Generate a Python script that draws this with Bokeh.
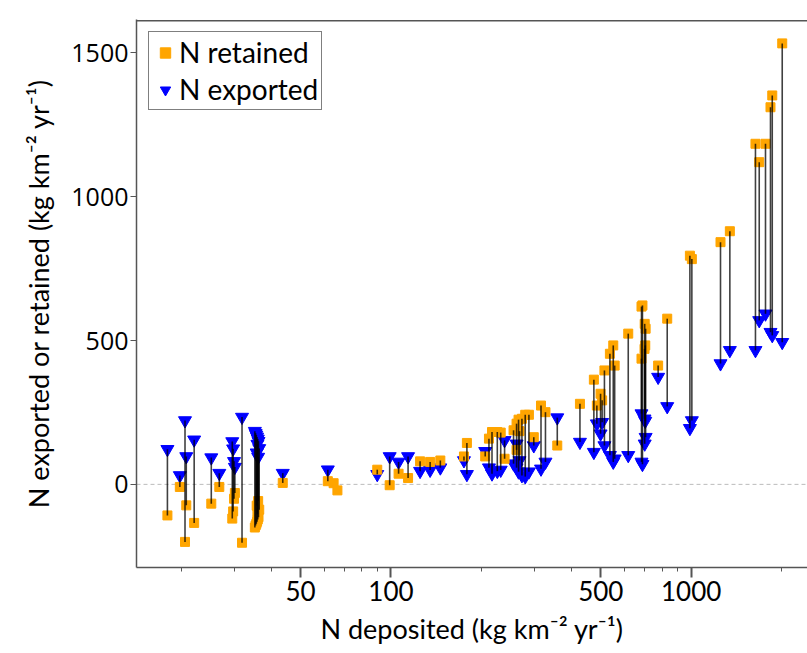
import numpy as np
from bokeh.plotting import figure
from bokeh.models import (Range1d, FixedTicker, PrintfTickFormatter, Span,
                          Legend, LegendItem, ColumnDataSource)
from bokeh.embed import file_html
from bokeh.resources import INLINE

nan = float("nan")

# N deposited (kg km-2 yr-1)
deposited = [18.0, 19.8, 20.6, 20.8, 22.1, 25.2, 26.8, 29.6, 29.8, 30.0, 30.2, 31.9,
             35.2, 35.4, 35.6, 35.8, 36.0, 36.2, 35.9, 36.4, 35.7, 36.1,
             43.6, 61.6, 64.4, 66.3, 90, 99, 106, 114, 125, 135, 146, 175, 179,
             206, 212, 217, 226, 232, 239, 256, 262, 266, 273, 280, 288, 262, 268,
             299, 316, 327, 358, 426, 474, 485, 499, 505, 514, 536, 550, 556, 617,
             683, 688, 700, 705, 703, 699, 683, 776, 832, 990, 1005,
             1252, 1345, 1637, 1685, 1768, 1837, 1862, 2010]
# N exported
exported = [122, 31, 222, 97, 155, 93, 39, 149, 124, 80, 60, 234,
            185, 178, 172, 165, 158, 150, 140, 125, 110, 95,
            39, 51, nan, nan, 35, 97, 78, 97, 46, 50, 58, 83, 35,
            115, 58, 37, 46, 50, 153, 72, 58, 44, 31, 27, 44, 141, 83,
            135, 54, 78, 232, 147, 112, 211, 176, 216, 135, 101, 78, 89, 101,
            78, 70, 141, 164, 220, 228, 246, 373, 271, 195, 222,
            420, 466, 466, 570, 593, 529, 518, 494]
# N retained
retained = [-108, -9, -200, -73, -134, -67, -9, -119, -94, -50, -30, -203,
            -150, -143, -137, -130, -122, -114, -104, -88, -74, -58,
            5, 11, 4, -21, 51, -3, 37, 22, 80, 78, 83, 97, 144,
            97, 159, 182, 182, 180, 89, 188, 211, 225, 228, 242, 242, 120, 185,
            164, 274, 251, 135, 280, 364, 274, 315, 292, 396, 454, 483, 413, 524,
            618, 622, 558, 541, 483, 471, 437, 413, 576, 795, 783,
            842, 880, 1184, 1120, 1184, 1311, 1352, 1533]

y_ticks = [0, 500, 1000, 1500]
x_ticks = [50, 100, 500, 1000]
x_minor = [20, 30, 40, 60, 70, 80, 90, 200, 300, 400, 600, 700, 800, 900, 2000]

src = ColumnDataSource(dict(x=np.array(deposited, float),
                            exp=np.array(exported, float),
                            ret=np.array(retained, float)))

p = figure(width=807, height=650, x_axis_type="log",
           x_range=Range1d(14.2, 2440), y_range=Range1d(-289, 1616),
           output_backend="svg", toolbar_location=None,
           min_border_left=136, min_border_right=0, min_border_top=19,
           min_border_bottom=83)
p.outline_line_color = None
p.xgrid.visible = False
p.ygrid.visible = False

p.add_layout(Span(location=1612, dimension="width", line_color="#555555",
                  line_width=1.5))
p.add_layout(Span(location=0, dimension="width", line_color="#bbbbbb",
                  line_dash="4 3", line_width=1, level="underlay"))

r_exp = p.scatter("x", "exp", source=src, marker="inverted_triangle", size=13,
                  fill_color="#0000ff", line_color="#0000ff")
r_ret = p.scatter("x", "ret", source=src, marker="square", size=9,
                  fill_color="#ffa500", line_color="#ffa500")
p.segment(x0="x", y0="exp", x1="x", y1="ret", source=src,
          line_color="black", line_width=1.6, line_alpha=0.75)

# axes
for ax in (p.xaxis[0], p.yaxis[0]):
    ax.axis_line_color = "#555555"
    ax.axis_line_width = 1.5
    ax.major_tick_line_color = "#555555"
    ax.minor_tick_line_color = "#555555"
    ax.major_tick_in = 0
    ax.minor_tick_in = 0
    ax.major_label_text_color = "black"
    ax.axis_label_text_color = "black"
    ax.axis_label_text_font = "Lato"
    ax.axis_label_text_font_style = "normal"
    ax.axis_label_text_font_size = "27px"

p.yaxis.ticker = FixedTicker(ticks=y_ticks)
p.yaxis.minor_tick_line_color = None
p.yaxis.major_tick_out = 6
p.yaxis.major_label_standoff = 2
p.yaxis.major_label_text_font = "Open Sans"
p.yaxis.major_label_text_font_size = "25px"
p.yaxis.axis_label = "N exported or retained (kg km\u207b\u00b2 yr\u207b\u00b9)"
p.yaxis.axis_label_standoff = 13

p.xaxis.ticker = FixedTicker(ticks=x_ticks, minor_ticks=x_minor)
p.xaxis.formatter = PrintfTickFormatter(format="%d")
p.xaxis.major_tick_out = 10
p.xaxis.minor_tick_out = 4
p.xaxis.major_tick_line_width = 2
p.xaxis.major_label_standoff = 3
p.xaxis.major_label_text_font = "Lato"
p.xaxis.major_label_text_font_size = "26px"
p.xaxis.axis_label = "N deposited (kg km\u207b\u00b2 yr\u207b\u00b9)"
p.xaxis.axis_label_standoff = 8

legend = Legend(items=[LegendItem(label="N retained", renderers=[r_ret]),
                       LegendItem(label="N exported", renderers=[r_exp])],
                location="top_left")
legend.margin = 12
legend.padding = 3
legend.spacing = 3
legend.glyph_width = 26
legend.glyph_height = 29
legend.label_height = 29
legend.label_standoff = 1
legend.label_text_font = "Lato"
legend.label_text_font_size = "28px"
legend.label_text_color = "black"
legend.border_line_color = "black"
legend.border_line_width = 1.5
legend.background_fill_alpha = 1
p.add_layout(legend)

open("out.html", "w").write(file_html(p, INLINE))
